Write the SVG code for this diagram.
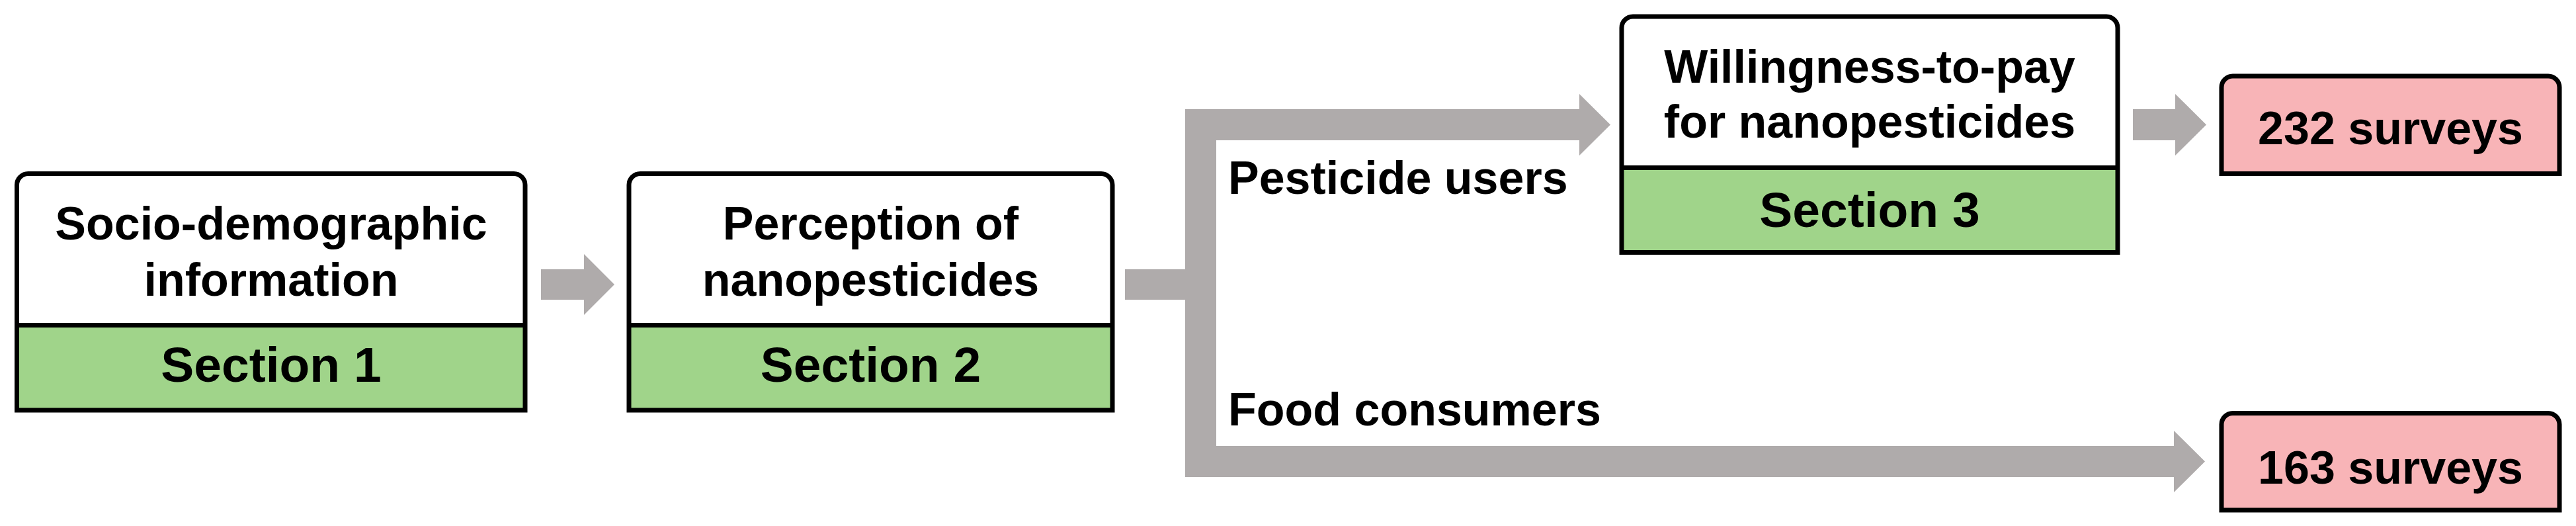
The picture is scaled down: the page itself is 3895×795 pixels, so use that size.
<svg xmlns="http://www.w3.org/2000/svg" width="3895" height="795" viewBox="0 0 3895 795">
<style>
.t{font-family:"Liberation Sans",Arial,sans-serif;font-weight:bold;font-size:70px;fill:#000}
.s{font-size:75px}
.m{text-anchor:middle}
.bg{fill:#FFFFFF;stroke:none}
.gr{fill:#A0D48A;stroke:none}
.pk{fill:#F8B4B7;stroke:none}
.ol{fill:none;stroke:#000;stroke-width:7;stroke-linejoin:miter}
.dv{stroke:#000;stroke-width:7}
.ar{fill:#AFABAB;stroke:none}
</style>
<rect width="3895" height="795" fill="#FFFFFF"/>
<g id="connectors">
<polygon class="ar" points="818,407 883,407 883,384 929,430 883,476 883,453 818,453"/>
<polygon class="ar" points="1701,407 1792,407 1792,165 2388,165 2388,142 2435,188.5 2388,235 2388,212 1839,212 1839,674 3287,674 3287,651 3334,697.5 3287,744 3287,721 1792,721 1792,453 1701,453"/>
<polygon class="ar" points="3225,165 3289,165 3289,142 3336,188.5 3289,235 3289,212 3225,212"/>
</g>
<g id="section1">
<path class="bg" d="M25.5,620 V279.5 A17,17 0 0 1 42.5,262.5 H777 A17,17 0 0 1 794,279.5 V620 Z"/>
<rect class="gr" x="25.5" y="491.5" width="768.5" height="128.5"/>
<path class="ol" d="M25.5,620 V279.5 A17,17 0 0 1 42.5,262.5 H777 A17,17 0 0 1 794,279.5 V620 Z"/>
<line class="dv" x1="25.5" y1="491.5" x2="794" y2="491.5"/>
<text class="t m" x="410" y="362">Socio-demographic</text>
<text class="t m" x="410" y="447">information</text>
<text class="t s m" x="410" y="577">Section 1</text>
</g>
<g id="section2">
<path class="bg" d="M951,620 V279.5 A17,17 0 0 1 968,262.5 H1665 A17,17 0 0 1 1682,279.5 V620 Z"/>
<rect class="gr" x="951" y="491.5" width="731" height="128.5"/>
<path class="ol" d="M951,620 V279.5 A17,17 0 0 1 968,262.5 H1665 A17,17 0 0 1 1682,279.5 V620 Z"/>
<line class="dv" x1="951" y1="491.5" x2="1682" y2="491.5"/>
<text class="t m" x="1316.5" y="362">Perception of</text>
<text class="t m" x="1316.5" y="447">nanopesticides</text>
<text class="t s m" x="1316.5" y="577">Section 2</text>
</g>
<g id="label-pesticide-users">
<text class="t" x="1857" y="293">Pesticide users</text>
</g>
<g id="label-food-consumers">
<text class="t" x="1857" y="643">Food consumers</text>
</g>
<g id="section3">
<path class="bg" d="M2452,381.5 V42 A17,17 0 0 1 2469,25 H3185 A17,17 0 0 1 3202,42 V381.5 Z"/>
<rect class="gr" x="2452" y="253.5" width="750" height="128"/>
<path class="ol" d="M2452,381.5 V42 A17,17 0 0 1 2469,25 H3185 A17,17 0 0 1 3202,42 V381.5 Z"/>
<line class="dv" x1="2452" y1="253.5" x2="3202" y2="253.5"/>
<text class="t m" x="2827" y="125">Willingness-to-pay</text>
<text class="t m" x="2827" y="208">for nanopesticides</text>
<text class="t s m" x="2827" y="343">Section 3</text>
</g>
<g id="surveys232">
<path class="pk" d="M3359,262.5 V132 A17,17 0 0 1 3376,115 H3853 A17,17 0 0 1 3870,132 V262.5 Z"/>
<path class="ol" d="M3359,262.5 V132 A17,17 0 0 1 3376,115 H3853 A17,17 0 0 1 3870,132 V262.5 Z"/>
<text class="t m" x="3614.5" y="218">232 surveys</text>
</g>
<g id="surveys163">
<path class="pk" d="M3359,771 V641.5 A17,17 0 0 1 3376,624.5 H3853 A17,17 0 0 1 3870,641.5 V771 Z"/>
<path class="ol" d="M3359,771 V641.5 A17,17 0 0 1 3376,624.5 H3853 A17,17 0 0 1 3870,641.5 V771 Z"/>
<text class="t m" x="3614.5" y="731">163 surveys</text>
</g>
</svg>
